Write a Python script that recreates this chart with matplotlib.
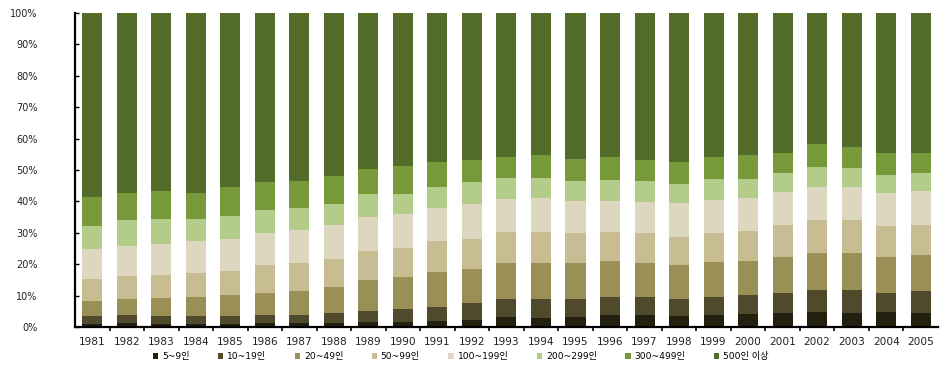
import matplotlib
matplotlib.use("Agg")
import matplotlib.pyplot as plt
from matplotlib.ticker import FixedLocator, PercentFormatter
from matplotlib.patches import Patch
import numpy as np

plt.rcParams['font.family'] = ['DejaVu Sans', 'Noto Sans CJK KR']

years = [str(y) for y in range(1981, 2006)]

size_labels = ["5~9인", "10~19인", "20~49인", "50~99인",
               "100~199인", "200~299인", "300~499인", "500인 이상"]

# share of each establishment-size class (%), per year
s_5_9 = [1.0, 1.2, 1.0, 1.0, 1.0, 1.2, 1.2, 1.2, 1.6, 1.6, 1.8, 2.2, 3.1,
         2.9, 3.3, 3.9, 3.9, 3.5, 3.9, 4.1, 4.6, 4.8, 4.6, 4.8, 4.6]
s_10_19 = [2.5, 2.7, 2.5, 2.5, 2.5, 2.7, 2.7, 3.2, 3.6, 4.0, 4.7, 5.3, 5.7,
           6.1, 5.7, 5.8, 5.8, 5.5, 5.8, 6.0, 6.3, 7.0, 7.2, 6.1, 6.8]
s_20_49 = [4.9, 4.9, 5.7, 6.2, 6.6, 7.0, 7.5, 8.2, 9.8, 10.4, 11.0, 11.1, 11.5,
           11.5, 11.5, 11.2, 10.6, 10.6, 11.0, 11.0, 11.5, 11.9, 11.9, 11.5, 11.4]
s_50_99 = [7.0, 7.4, 7.5, 7.4, 7.8, 8.9, 8.9, 9.0, 9.3, 9.2, 9.8, 9.5, 10.0,
           9.8, 9.3, 9.4, 9.5, 9.2, 9.1, 9.6, 10.2, 10.2, 10.2, 9.8, 9.6]
s_100_199 = [9.3, 9.6, 9.7, 10.2, 10.2, 10.0, 10.6, 10.9, 10.6, 10.8, 10.6, 11.1, 10.6,
             10.8, 10.2, 9.9, 10.0, 10.8, 10.6, 10.4, 10.4, 10.8, 10.6, 10.6, 10.8]
s_200_299 = [7.5, 8.1, 7.9, 7.0, 7.3, 7.5, 7.0, 6.7, 7.5, 6.4, 6.6, 6.8, 6.6,
             6.4, 6.4, 6.6, 6.6, 6.0, 6.6, 6.1, 5.9, 6.1, 6.1, 5.7, 5.9]
s_300_499 = [9.1, 8.9, 8.9, 8.5, 9.1, 8.9, 8.6, 8.9, 7.8, 8.9, 8.0, 7.0, 6.7,
             7.2, 7.2, 7.4, 6.6, 6.9, 7.2, 7.5, 6.6, 7.5, 6.8, 7.0, 6.4]
s_500_up = [58.7, 57.2, 56.8, 57.2, 55.5, 53.8, 53.5, 51.9, 49.8, 48.7, 47.5, 47.0, 45.8,
            45.3, 46.4, 45.8, 47.0, 47.5, 45.8, 45.3, 44.5, 41.7, 42.6, 44.5, 44.5]

series = [s_5_9, s_10_19, s_20_49, s_50_99, s_100_199, s_200_299, s_300_499, s_500_up]
colors = ["#23200f", "#4f4a2c", "#9a8f55", "#c8bc93",
          "#ddd7bf", "#b4cc8a", "#76993a", "#536c29"]

fig = plt.figure(figsize=(9.4, 3.67), dpi=100)
ax = fig.add_axes([0.0798, 0.109, 0.918, 0.856])

x = np.arange(len(years))
bottom = np.zeros(len(years))
for vals, col in zip(series, colors):
    vals = np.asarray(vals)
    ax.bar(x, vals, width=0.58, bottom=bottom, color=col, linewidth=0)
    bottom += vals

ax.set_xlim(-0.5, len(years) - 0.5)
ax.set_ylim(0, 100)

ax.spines['top'].set_visible(False)
ax.spines['right'].set_visible(False)
ax.spines['left'].set_linewidth(1.6)
ax.spines['bottom'].set_linewidth(1.6)

ax.set_yticks(np.arange(0, 101, 10))
ax.yaxis.set_major_formatter(PercentFormatter(decimals=0))
ax.tick_params(axis='y', direction='in', length=3, width=1, labelsize=7,
               pad=27, labelcolor='#222222')

ax.set_xticks(x)
ax.set_xticklabels(years, fontsize=7.6, color='#222222')
ax.tick_params(axis='x', which='major', length=0, pad=7)
ax.xaxis.set_minor_locator(FixedLocator(np.arange(0.5, len(years) - 0.5, 1)))
ax.tick_params(axis='x', which='minor', direction='out', length=3, width=1.2)

handles = [Patch(facecolor=c, edgecolor='none') for c in colors]
fig.legend(handles, size_labels, loc='center', bbox_to_anchor=(0.49, 0.028),
           ncol=8, frameon=False, fontsize=6.6, handlelength=0.6,
           handleheight=0.6, handletextpad=0.4, columnspacing=3.1,
           borderpad=0.1)

fig.savefig("out.png", dpi=100, facecolor='white')
